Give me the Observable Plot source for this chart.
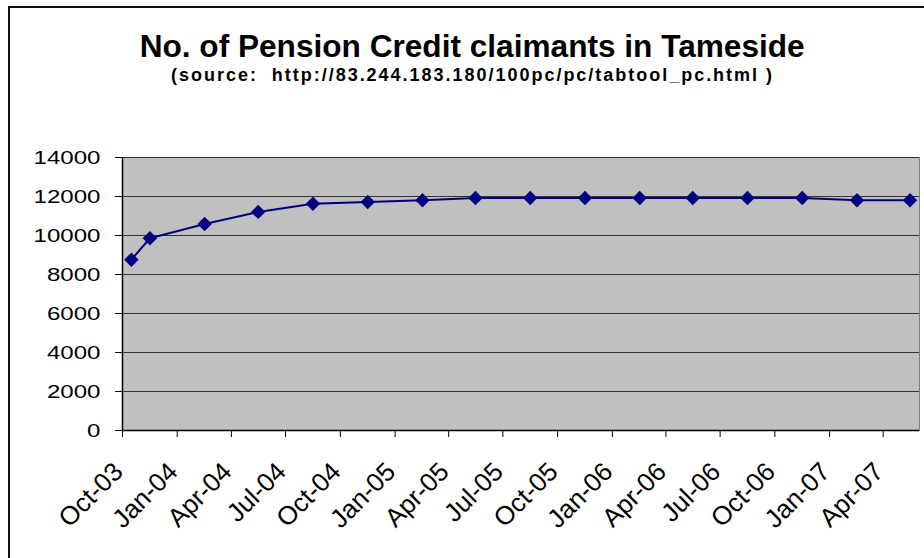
<!DOCTYPE html>
<html>
<head>
<meta charset="utf-8">
<script src="https://cdn.jsdelivr.net/npm/d3@7"></script>
<script src="https://cdn.jsdelivr.net/npm/@observablehq/plot@0.6"></script>
<style>
  html, body { margin: 0; padding: 0; width: 924px; height: 558px; overflow: hidden; background: #fff; }
  body { position: relative; font-family: "Liberation Sans", Arial, sans-serif; }
  #frame { position: absolute; left: 8px; top: 6px; width: 2000px; height: 2000px; border: 2px solid #111; box-sizing: border-box; }
  .ttl { position: absolute; left: 0; width: 945px; text-align: center; white-space: nowrap; font-weight: bold; color: #000; }
  #title { top: 31px; font-size: 31px; line-height: 31px; }
  #subtitle { top: 66px; font-size: 18px; line-height: 18px; }
  .ttl span { display: inline-block; transform-origin: center; }
  #chart { position: absolute; left: 0; top: 100px; }
</style>
</head>
<body>
<div id="frame"></div>
<div class="ttl" id="title"><span>No. of Pension Credit claimants in Tameside</span></div>
<div class="ttl" id="subtitle"><span>(source:&nbsp; http://83.244.183.180/100pc/pc/tabtool_pc.html )</span></div>
<div id="chart"></div>
<script>
// ---- data ----
const dates = ["2003-10-16","2003-11-16","2004-02-16","2004-05-16","2004-08-16","2004-11-16",
               "2005-02-16","2005-05-16","2005-08-16","2005-11-16","2006-02-16","2006-05-16",
               "2006-08-16","2006-11-16","2007-02-16","2007-05-16"];
const claimants = [8760, 9860, 10590, 11210, 11630, 11720, 11810, 11920,
                   11920, 11920, 11920, 11920, 11920, 11920, 11810, 11810];
const xTicks = ["2003-10-01","2004-01-01","2004-04-01","2004-07-01","2004-10-01","2005-01-01",
                "2005-04-01","2005-07-01","2005-10-01","2006-01-01","2006-04-01","2006-07-01",
                "2006-10-01","2007-01-01","2007-04-01"];
const xDomain = ["2003-10-01","2007-06-01"];
const yTicks = [0, 2000, 4000, 6000, 8000, 10000, 12000, 14000];

const data = dates.map((d, i) => ({date: new Date(d), value: claimants[i]}));
const tickDates = xTicks.map(d => new Date(d));
const dom = xDomain.map(d => new Date(d));
const fmt = d3.utcFormat("%b-%y");

const plot = Plot.plot({
  width: 924,
  height: 458,
  marginTop: 57,
  marginBottom: 128,
  marginLeft: 122,
  marginRight: 5,
  style: {fontFamily: "'Liberation Sans', Arial, sans-serif", color: "#000", background: "transparent"},
  x: {type: "utc", domain: dom},
  y: {domain: [0, 14000]},
  marks: [
    Plot.frame({fill: "#c0c0c0", stroke: "#808080"}),
    Plot.gridY(yTicks, {stroke: "#333", strokeOpacity: 1, strokeWidth: 1}),
    Plot.ruleY([0], {stroke: "#000", strokeWidth: 1.5}),
    Plot.ruleX([dom[0]], {stroke: "#000", strokeWidth: 1.5}),
    Plot.axisY({ticks: yTicks, tickFormat: d => String(d), tickSize: 7, tickPadding: 15, fontSize: 19, label: null}),
    Plot.axisX({ticks: tickDates, tickSize: 7, text: null, label: null}),
    Plot.axisX({ticks: tickDates, tickFormat: fmt, tickSize: 0, tickPadding: 37, tickRotate: -45, fontSize: 26, dx: -4, label: null}),
    Plot.line(data, {x: "date", y: "value", stroke: "#000080", strokeWidth: 2}),
    Plot.dot(data, {x: "date", y: "value", symbol: "diamond2", r: 6.5, fill: "#000080", stroke: "none"})
  ]
});
document.getElementById("chart").appendChild(plot);

// stretch y tick labels horizontally like the reference
d3.select(plot).selectAll('g[aria-label="y-axis tick label"] text').each(function() {
  const t = this.textContent;
  this.setAttribute("textLength", (13.4 * t.length).toFixed(1));
  this.setAttribute("lengthAdjust", "spacingAndGlyphs");
});

// fit title widths
function fit(id, target, mode) {
  const span = document.querySelector("#" + id + " span");
  const w = span.getBoundingClientRect().width;
  if (mode === "scale") span.style.transform = `scaleX(${target / w})`;
  else {
    const n = span.textContent.length - 1;
    span.style.letterSpacing = ((target - w) / n) + "px";
  }
}
fit("title", 665, "scale");
fit("subtitle", 601, "spacing");
</script>
</body>
</html>
